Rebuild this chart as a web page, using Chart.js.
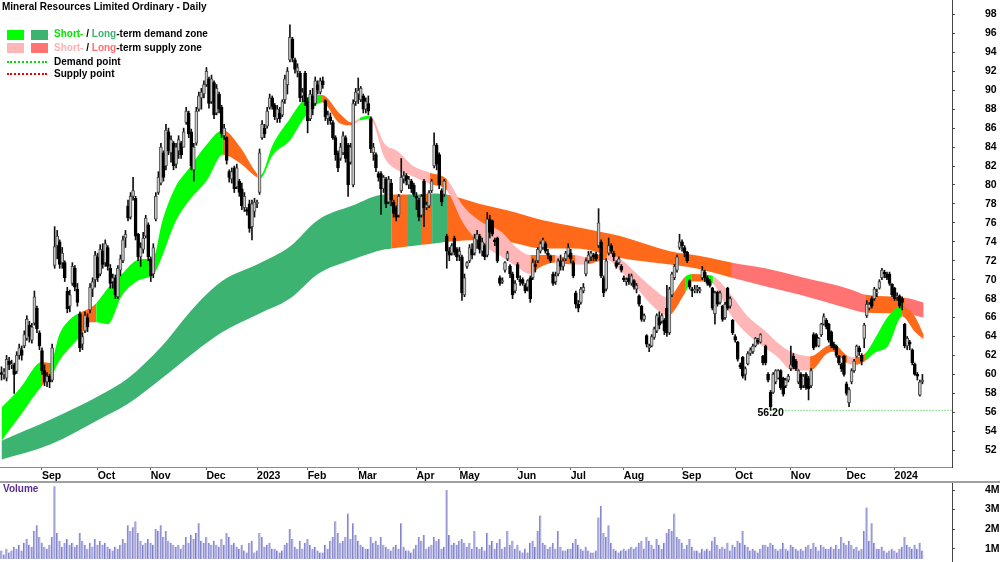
<!DOCTYPE html>
<html>
<head>
<meta charset="utf-8">
<title>Mineral Resources Limited Ordinary - Daily</title>
<script src="https://cdn.jsdelivr.net/npm/chart.js@4.4.1/dist/chart.umd.min.js"></script>
<style>
  html, body { margin: 0; padding: 0; background: #fff; }
  #wrap { position: relative; width: 1000px; height: 562px; overflow: hidden; font-family: "Liberation Sans", Arial, sans-serif; }
  #pricePanel { position: absolute; left: 0; top: 0; width: 1000px; height: 482px; }
  #volumePanel { position: absolute; left: 0; top: 483px; width: 1000px; height: 76px; }
  #axisTail { position: absolute; left: 952px; top: 559px; width: 1px; height: 3px; background: #444; }
  #divider { position: absolute; left: 0; top: 481px; width: 1000px; height: 2px; background: #a0a0a0; }
  .txt { position: absolute; font-weight: bold; font-size: 10px; line-height: 12px; color: #000; white-space: nowrap; }
  .sw { position: absolute; width: 17px; height: 10px; }
  .dots { position: absolute; width: 40px; height: 0; border-top: 2px dotted; }
</style>
</head>
<body>
<div id="wrap">
  <div id="pricePanel"><canvas id="priceChart"></canvas></div>
  <div id="divider"></div>
  <div id="volumePanel"><canvas id="volumeChart"></canvas></div>
  <div id="axisTail"></div>

  <div class="txt" style="left:2px;top:1px">Mineral Resources Limited Ordinary - Daily</div>

  <div class="sw" style="left:7px;top:30px;background:#00ff00"></div>
  <div class="sw" style="left:31px;top:30px;background:#3cb371"></div>
  <div class="txt" style="left:54px;top:28px"><span style="color:#00e600">Short-</span> / <span style="color:#3cb371">Long</span>-term demand zone</div>

  <div class="sw" style="left:7px;top:43px;background:#ffb6b6"></div>
  <div class="sw" style="left:31px;top:43px;background:#ff7373"></div>
  <div class="txt" style="left:54px;top:42px"><span style="color:#ffb0b0">Short-</span> / <span style="color:#ff6f6f">Long</span>-term supply zone</div>

  <div class="dots" style="left:7px;top:61px;border-color:#00dd00"></div>
  <div class="txt" style="left:54px;top:56px">Demand point</div>
  <div class="dots" style="left:7px;top:73px;border-color:#ee0000"></div>
  <div class="txt" style="left:54px;top:68px">Supply point</div>

  <div class="txt" style="left:3px;top:483px;color:#5c2d91">Volume</div>
</div>

<script>
// daily bars: [open, high, low, close, volume (millions)]
const aug22 = [
  [60.2,60.8,59.4,60.0,0.9],[60.0,60.6,59.5,60.3,0.7],[59.6,62.0,59.3,61.6,1.0],[61.4,61.8,60.5,61.0,0.8],
  [61.0,61.5,60.6,61.1,0.9],[61.0,61.2,58.0,60.0,1.1],[60.3,62.4,60.1,62.0,1.0],[62.0,63.2,61.6,62.8,1.2],
  [62.6,63.0,61.5,62.0,0.9],[63.0,64.6,62.8,64.2,1.3],[63.8,66.2,63.6,65.8,1.5],[65.2,65.6,63.4,64.0,1.2],
  [63.6,65.4,63.3,65.0,1.1],[65.4,68.8,65.2,68.2,1.9],[67.0,67.2,64.4,64.8,2.2],[64.4,64.6,62.6,63.0,1.6]
];
const sep22 = [
  [62.5,62.8,60.0,60.4,1.3],[60.4,61.0,58.8,59.2,1.1],[59.2,60.2,58.7,59.8,1.0],[59.8,60.0,58.6,59.2,1.2],
  [59.4,63.2,59.2,62.8,1.6],[71.5,75.6,71.2,73.5,4.2],[73.6,75.2,72.2,74.6,1.8],[74.0,74.2,71.2,71.6,1.4],
  [71.8,73.4,71.2,72.8,1.1],[71.8,72.0,69.8,70.2,1.3],[68.8,69.2,66.5,66.9,1.5],[67.2,68.9,66.6,68.4,1.2],
  [69.6,71.8,69.4,71.4,1.3],[71.2,71.5,68.8,69.2,1.1],[69.0,69.6,67.2,67.6,1.2],[66.4,66.6,62.4,62.8,1.8],
  [63.2,64.4,62.6,64.0,1.4],[64.6,66.6,64.4,66.2,1.2],[66.0,66.4,64.5,65.0,1.0],[66.8,69.6,66.5,69.2,1.3],
  [69.0,70.2,68.2,69.8,1.1],[70.0,73.0,69.2,72.6,1.5]
];
const oct22 = [
  [72.4,72.8,69.8,70.2,1.2],[70.6,73.7,70.4,73.2,1.4],[73.0,73.8,71.2,71.6,1.2],[71.8,74.2,71.4,73.8,1.3],
  [73.4,73.6,71.0,71.4,1.1],[71.2,71.6,69.1,69.6,1.0],[69.8,70.6,69.1,70.2,0.9],[70.2,70.5,68.0,68.4,1.1],
  [68.2,71.5,68.0,71.2,1.0],[71.0,72.6,70.4,72.2,1.2],[72.0,74.6,71.8,74.2,1.5],[74.4,75.2,73.4,74.8,1.3],
  [77.8,78.4,76.2,76.5,2.2],[76.6,79.2,76.4,78.8,1.9],[78.8,80.8,78.4,79.4,2.1],[78.6,78.8,74.2,74.6,2.4],
  [74.8,74.9,72.0,72.4,1.8],[72.4,73.9,71.4,73.4,1.4],[73.2,75.0,72.8,74.4,1.2],[74.6,76.8,74.4,76.5,1.3],
  [75.8,76.0,72.0,72.4,1.5]
];
const nov22 = [
  [72.2,72.4,69.8,70.4,1.3],[70.6,73.8,70.2,73.4,1.2],[76.4,79.2,76.2,78.8,2.0],[79.2,81.4,79.0,80.8,1.9],
  [80.2,84.4,80.0,84.0,2.2],[83.4,83.6,80.4,80.8,1.6],[82.0,86.4,81.6,85.8,1.9],[85.6,86.0,83.2,83.6,1.4],
  [83.4,85.2,82.4,84.8,1.3],[84.4,84.6,81.6,82.0,1.2],[82.2,84.4,81.8,84.0,1.1],[83.6,85.2,82.8,84.8,1.2],
  [84.4,84.6,82.8,83.2,1.0],[84.0,86.0,84.0,85.6,1.2],[86.6,88.2,86.4,87.8,1.6],[87.6,87.8,85.0,85.4,1.3],
  [85.6,85.9,81.6,82.0,1.7],[81.6,84.4,80.4,84.0,1.5],[84.4,88.2,84.2,87.8,1.8],[88.0,89.8,87.8,89.4,2.3],
  [89.2,90.2,88.0,89.8,1.4],[89.6,91.0,89.2,90.6,1.3]
];
const dec22 = [
  [90.6,92.4,90.4,92.0,1.6],[91.2,91.4,88.1,88.6,1.3],[88.8,91.6,88.6,91.2,1.2],[90.8,91.0,87.0,87.4,1.4],
  [87.6,90.6,87.4,90.2,1.2],[89.6,89.8,87.6,88.0,1.1],[88.2,88.4,85.0,85.4,1.5],[85.2,86.4,84.8,86.0,1.2],
  [85.0,85.1,82.2,82.6,1.8],[81.4,81.6,80.3,80.8,1.6],[80.6,81.8,80.2,81.4,1.2],[81.8,82.0,79.2,79.6,1.3],
  [79.8,82.2,79.6,81.8,1.1],[80.4,80.6,78.8,79.2,1.0],[79.6,80.2,77.4,77.8,1.2],[77.6,79.2,77.2,78.8,0.9],
  [77.4,77.6,76.8,77.2,0.8],[78.0,78.4,75.0,75.4,1.3],[75.6,78.4,74.2,78.0,1.4],[77.2,78.6,76.6,78.2,0.8]
];
const jan23 = [
  [78.0,78.4,77.6,78.2,0.9],[79.2,83.8,79.0,83.4,1.8],[85.0,86.8,84.8,86.4,1.6],[86.0,86.4,85.0,85.4,1.1],
  [86.2,88.2,86.0,87.8,1.2],[88.2,89.6,88.0,89.2,1.3],[89.2,89.4,88.0,88.3,1.0],[88.4,88.6,86.9,87.2,1.0],
  [87.0,88.4,86.6,88.0,0.9],[87.6,88.2,86.6,87.0,0.8],[87.4,89.0,87.2,88.8,0.9],[89.0,91.6,88.6,91.2,1.2],
  [90.6,92.4,89.6,92.0,1.3],[93.2,96.9,93.0,95.6,2.0],[95.4,95.6,93.0,93.4,1.5],[93.2,93.4,91.8,92.2,1.1],
  [92.0,92.8,91.4,92.4,1.0],[91.8,92.0,88.8,89.2,1.4],[89.4,90.2,88.8,89.8,1.0],[91.8,92.0,88.4,88.8,1.3]
];
const feb23 = [
  [88.8,89.2,85.5,86.8,1.5],[87.0,90.0,86.8,89.6,1.2],[89.4,90.2,87.4,88.0,1.0],[88.6,91.4,88.4,91.0,1.1],
  [90.6,91.0,89.6,90.0,0.9],[89.8,91.3,89.6,91.0,0.8],[91.0,91.4,90.2,90.6,0.8],[88.9,89.0,86.8,87.2,1.2],
  [87.0,87.8,86.4,87.4,1.0],[87.2,87.6,86.4,86.8,1.4],[86.6,86.8,84.8,85.0,1.6],[85.0,85.2,82.6,83.2,2.4],
  [83.4,83.6,81.4,81.8,1.8],[82.8,84.4,82.6,84.0,1.3],[83.4,85.6,83.2,85.2,1.4],[85.0,85.2,82.4,82.8,1.6],
  [84.2,84.4,78.8,80.0,2.8],[82.4,84.4,82.2,84.0,1.5],[80.0,89.0,79.8,88.6,2.3],[88.8,90.2,88.4,89.8,1.7]
];
const mar23 = [
  [89.6,91.3,88.6,90.0,1.4],[89.0,90.4,88.8,90.2,1.2],[89.4,89.6,87.6,88.0,1.1],[88.0,89.2,87.6,88.8,1.0],
  [88.6,89.4,87.4,87.8,1.0],[87.0,87.2,83.4,83.8,1.6],[83.4,84.4,82.6,84.0,1.3],[83.2,83.4,81.4,81.8,1.4],
  [81.2,81.4,80.4,80.8,1.2],[81.2,81.4,76.9,79.6,1.6],[79.6,81.0,79.2,80.8,1.2],[80.6,80.8,77.6,78.0,1.1],
  [78.2,80.9,78.0,80.6,1.0],[80.2,80.6,77.8,78.4,0.9],[78.2,78.4,76.6,77.0,1.1],[77.6,77.8,76.2,76.6,1.2],
  [76.8,79.0,76.6,78.8,1.0],[79.4,82.8,79.2,80.8,2.3],[80.6,81.4,80.2,81.0,1.1],[81.0,81.2,80.0,80.4,0.9],
  [80.0,80.9,79.6,80.6,0.9],[80.4,80.6,79.2,79.6,0.8],[80.0,80.2,78.8,79.0,1.0]
];
const apr23 = [
  [78.8,79.2,77.4,78.6,1.2],[78.4,78.6,76.2,76.6,1.6],[76.8,79.0,76.6,78.8,1.4],[80.4,80.6,75.6,77.6,1.7],
  [77.6,78.2,77.4,77.9,1.0],[77.8,79.4,77.6,79.2,1.1],[79.4,80.6,79.2,80.4,1.2],[82.0,85.5,81.8,84.2,1.6],
  [84.2,84.4,81.6,82.2,1.4],[83.2,83.4,79.6,80.0,1.5],[79.4,79.6,77.8,78.2,1.0],[79.0,80.6,78.8,80.4,1.1],
  [74.6,74.8,71.2,73.0,4.0],[73.0,73.4,72.0,72.6,1.7],[72.8,73.8,72.6,73.6,1.2],[74.4,74.6,72.6,72.9,1.3],
  [73.2,73.4,72.0,72.4,1.2]
];
const may23 = [
  [72.6,73.4,72.0,73.0,1.4],[72.4,72.6,67.8,68.6,1.5],[68.4,70.6,68.2,70.2,1.3],[71.4,71.9,71.2,71.8,1.1],
  [72.0,73.7,71.8,73.4,1.3],[73.2,73.8,72.2,72.6,1.0],[72.8,74.8,72.6,74.4,1.9],[74.2,75.2,73.3,74.8,1.1],
  [74.6,74.8,72.8,73.2,1.0],[73.0,74.4,72.5,74.0,1.1],[73.6,73.8,72.1,72.4,0.9],[72.6,77.1,72.4,76.4,1.8],
  [76.4,76.8,74.4,75.0,1.2],[76.2,76.3,74.6,74.8,1.4],[74.2,74.4,73.6,74.0,1.0],[74.4,74.5,71.8,72.0,1.3],
  [70.2,70.4,69.4,69.6,1.5],[69.8,70.2,69.6,69.9,1.0],[71.0,71.9,70.8,71.8,1.1],[72.2,73.0,72.0,72.8,1.9],
  [71.4,71.6,70.2,70.6,1.2],[70.6,70.8,68.0,68.4,1.4],[68.8,69.9,68.6,69.6,1.0]
];
const jun23 = [
  [71.6,71.8,70.0,70.2,1.2],[70.0,70.4,69.4,69.8,0.9],[70.0,70.2,69.4,69.6,0.8],[69.4,69.6,68.6,68.8,1.0],
  [69.2,70.0,68.8,69.9,0.8],[70.2,70.4,67.6,68.0,1.3],[70.2,72.2,70.0,71.8,1.4],[71.6,72.0,70.8,71.4,1.1],
  [72.0,73.4,71.8,73.2,1.9],[73.0,74.0,72.8,73.8,2.7],[73.4,74.4,73.2,74.2,1.3],[73.8,74.0,72.8,73.0,1.2],
  [72.8,73.2,72.2,72.6,1.0],[72.5,72.6,71.8,72.0,1.1],[70.6,70.8,69.4,69.6,1.3],[69.8,70.8,69.5,70.4,1.0],
  [70.6,72.2,70.4,72.0,1.9],[72.0,72.6,71.0,71.4,1.1],[71.4,72.2,71.0,72.0,0.9],[72.2,73.0,72.0,72.8,0.9],
  [72.6,73.8,72.4,73.4,1.0]
];
const jul23 = [
  [72.8,73.2,71.8,72.2,1.0],[71.8,72.0,70.2,70.4,1.3],[68.6,68.8,67.0,67.4,1.5],[67.4,67.8,66.6,67.0,1.2],
  [67.6,69.2,67.4,69.0,1.0],[68.8,69.6,68.6,69.2,0.9],[70.6,72.2,70.4,72.0,1.1],[72.0,73.0,71.8,72.6,0.9],
  [72.4,73.0,72.0,72.8,0.8],[72.6,72.8,72.0,72.4,0.8],[72.7,72.9,72.0,72.2,0.9],[73.6,77.5,73.4,76.0,2.6],
  [74.0,74.2,70.2,70.4,3.2],[70.2,70.4,68.2,68.6,1.8],[69.0,72.2,68.8,72.0,1.6],[72.8,74.4,72.6,73.6,2.2],
  [73.6,73.8,72.8,73.0,1.3],[72.8,73.0,72.0,72.4,1.0],[71.8,72.0,71.2,71.4,0.9],[71.8,72.4,71.6,72.2,0.8],
  [71.4,71.6,70.8,71.0,0.9]
];
const aug23 = [
  [70.2,70.4,69.8,70.0,1.0],[69.8,70.2,69.4,70.0,0.9],[70.2,70.6,69.5,69.8,1.0],[69.6,70.6,69.4,70.4,1.1],
  [69.9,70.0,69.0,69.2,1.0],[69.0,69.6,68.6,69.4,1.1],[68.3,68.4,67.2,67.4,1.3],[67.2,67.3,65.6,65.8,1.4],
  [65.8,66.4,65.6,66.2,1.0],[64.1,64.2,62.9,63.2,1.6],[62.8,63.2,62.4,63.0,1.4],[63.0,64.2,62.9,64.0,1.2],
  [63.9,65.0,63.7,64.8,1.0],[64.6,66.4,64.4,66.2,1.5],[66.0,66.6,64.8,65.2,1.2],[65.6,66.4,65.4,66.2,1.0],
  [65.7,65.9,64.2,64.6,1.3],[67.0,69.4,64.0,64.4,1.8],[64.4,69.2,64.2,69.0,2.0],[68.4,70.8,68.2,70.6,1.9],
  [70.2,71.6,70.0,71.4,2.8],[71.0,72.6,70.8,72.4,1.6],[73.4,74.8,73.2,74.0,1.5]
];
const sep23 = [
  [74.0,74.2,73.0,73.6,1.3],[73.4,73.6,72.4,72.8,1.0],[72.9,73.0,71.8,72.0,1.2],[69.9,70.0,69.0,69.2,1.5],
  [69.0,69.2,68.2,68.8,1.1],[68.8,69.4,68.6,69.0,0.9],[69.0,69.4,68.6,69.2,0.9],[68.8,69.2,68.6,69.0,0.8],
  [70.2,71.4,70.0,71.0,1.0],[70.8,71.0,69.8,70.2,0.9],[70.2,70.4,69.4,69.6,1.0],[69.8,70.0,69.2,69.4,0.9],
  [69.1,69.2,66.8,67.0,1.4],[66.4,68.8,65.3,68.6,1.6],[68.7,68.8,67.2,67.4,1.2],[67.6,68.8,67.4,68.6,1.0],
  [67.2,67.3,65.6,65.8,1.1],[66.0,67.6,65.8,67.4,1.0],[69.1,69.2,66.8,67.0,1.3],[67.2,68.2,67.0,68.0,0.9],
  [65.7,65.8,64.2,64.4,1.2]
];
const oct23 = [
  [64.0,64.2,63.4,63.6,1.1],[63.4,63.5,61.4,61.6,1.4],[61.0,61.2,60.6,60.8,1.3],[61.8,61.9,59.6,59.8,1.9],
  [60.0,60.8,59.4,60.6,1.2],[61.1,62.4,61.0,62.2,1.1],[62.2,62.8,62.0,62.6,0.9],[62.4,63.2,62.2,63.0,1.0],
  [63.0,63.9,62.9,63.8,0.9],[63.6,63.8,63.2,63.4,0.8],[63.4,64.3,63.3,64.2,1.0],[61.9,62.0,61.0,61.2,1.2],
  [63.0,63.1,61.0,61.2,1.2],[60.0,60.2,59.2,59.4,1.1],[58.1,58.3,56.2,56.6,1.3],[58.1,60.2,58.0,60.0,1.2],
  [59.2,60.5,59.0,60.4,1.0],[59.6,60.5,59.5,60.4,0.9],[60.4,60.5,58.4,58.6,1.0],[59.6,59.7,57.7,57.9,1.3],
  [58.8,59.6,58.6,59.4,1.0],[59.4,60.0,59.2,59.8,0.9]
];
const nov23 = [
  [60.6,63.0,60.4,61.0,1.2],[61.9,62.2,60.6,60.8,1.1],[61.4,61.6,60.4,60.6,1.0],[59.2,60.5,59.0,60.4,0.9],
  [60.0,60.2,58.4,58.6,1.0],[58.8,60.0,58.6,59.8,0.9],[60.0,60.2,58.4,58.6,1.1],[59.6,59.8,57.3,58.5,1.2],
  [58.8,60.6,58.6,60.4,1.0],[64.2,64.4,62.6,62.8,1.3],[64.2,64.3,62.9,63.0,1.1],[63.0,63.9,62.9,63.8,0.9],
  [64.2,65.4,64.0,65.3,1.2],[65.3,66.4,65.2,66.1,1.1],[65.7,65.9,64.8,65.0,1.0],[65.3,65.4,63.4,63.6,1.0],
  [64.5,64.6,62.8,63.0,1.1],[63.2,63.4,62.6,62.8,1.0],[63.0,63.1,61.8,62.0,1.2],[61.9,62.0,61.0,61.2,1.0],
  [61.1,61.2,60.3,60.6,1.6],[61.9,62.0,59.8,60.0,1.3]
];
const dec23 = [
  [59.0,59.2,57.8,58.0,1.2],[57.0,58.6,56.6,58.4,1.4],[59.2,60.6,59.0,60.4,1.2],[60.4,61.6,60.2,61.4,1.0],
  [61.9,63.1,61.8,63.0,1.1],[62.8,63.0,62.0,62.4,0.9],[62.0,62.2,61.0,61.4,1.0],[63.8,65.4,62.8,65.2,1.9],
  [66.2,67.8,66.0,67.4,3.1],[67.0,67.6,66.8,67.4,1.4],[68.0,68.2,67.0,67.2,2.3],[68.0,69.2,67.8,69.0,1.3],
  [68.6,69.0,68.2,68.6,1.0],[69.1,70.0,69.0,69.8,1.0],[70.2,71.2,70.0,71.0,1.1],[70.8,71.0,70.2,70.6,0.9],
  [70.6,70.8,70.0,70.2,0.8],[70.6,70.8,69.4,69.6,0.9],[69.5,69.6,68.2,68.4,1.0]
];
const jan24 = [
  [69.1,69.2,67.8,68.0,0.9],[68.2,68.6,67.8,68.2,0.8],[68.3,68.4,67.0,67.2,1.0],[68.0,68.2,66.8,67.6,1.1],
  [65.3,65.4,62.8,63.0,1.6],[63.0,64.0,62.6,63.8,1.2],[63.4,63.6,62.6,63.2,1.1],[62.6,62.7,61.0,61.2,1.0],
  [61.1,61.2,59.9,60.0,1.2],[60.0,60.2,59.4,59.8,1.0],[57.8,59.4,57.7,59.2,1.3],[59.2,60.0,59.0,59.4,0.9]
];

// month axis labels (one per month after the first partial month)
const monthLabels = ['Sep','Oct','Nov','Dec','2023','Feb','Mar','Apr','May','Jun','Jul','Aug','Sep','Oct','Nov','Dec','2024'];
const priceTicks = [52,54,56,58,60,62,64,66,68,70,72,74,76,78,80,82,84,86,88,90,92,94,96,98];
const volumeTicks = [1,2,3,4];
const volumeTickLabels = ['1M','2M','3M','4M'];

// short-term zone band, read at bar positions
const shortX = [0,7.3,16,19.2,23,27,31,35,37.4,42,
  47.6,54,58.7,60.3,63.4,68.6,73.7,81.2,87.5,94.3,
  101,102.2,107.3,114,120,126.7,133.8,138.5,141.7,145.6,
  151.6,156.3,162.7,169.4,176.1,182.4,189.1,197.8,203,209,
  212.8,218.8,221.5,226.7,230.6,239.3,244.5,251.2,257.5,263.4,
  270.2,272.9,279.2,281.2,288.7,295,301.8,306.5,312.8,319.6,
  326.3,328.7,334.2,337.4,341.3,345.3,350.4,356,361,364.5];
const shortHi = [56.5,58.5,61.3,61.2,64.3,65.8,66.5,67,67.5,69.1,
  70.6,72.1,72.2,72.4,76,79.7,81.6,84.3,85.8,84,
  81.2,81,84.3,87,89.1,89.5,87.5,86.6,87.1,87.3,
  84.3,83.6,82,81.3,80.6,77.8,76.2,75,73.5,72.6,
  72.6,72.6,72.4,72.6,72.4,72.8,72.2,70.6,69.1,68.1,
  70.3,70.6,70.5,70.4,68.3,66.1,64.6,63.4,62.3,61.9,
  63,63.2,62,61.8,62.2,63.8,66.1,67.2,66.1,64.2];
const shortLo = [53,55.6,58.8,59.6,61.5,62.8,64,65.5,65.5,65.3,
  68.3,69.9,70.3,70.6,72.4,76,78.2,80.5,83.2,82.3,
  80.8,80.7,83.2,84.7,87.2,88.7,86.5,86.3,86.8,87,
  82.8,81.6,80.9,80.1,79.4,76,73.9,72.4,71.5,70.6,
  71.3,71.8,71.7,71.6,71.6,72.1,71,69.1,67.2,66.2,
  68.6,69.8,69.8,69.6,66.1,64.2,62.8,61.9,60.4,60.4,
  62.2,62.4,61.2,61,61.4,62.3,63,66.1,64.5,63.7];
// d = demand, s = supply, n = neutral (orange); applies from the point to the next one
const shortZone = ['d','d','n','d','d','d','n','n','d','d',
  'd','d','n','d','d','d','d','d','n','n',
  's','d','d','d','d','n','n','s','d','s',
  's','s','s','n','s','s','s','s','s','n',
  'n','s','n','s','n','s','s','s','s','n',
  'd','n','d','s','s','s','s','s','s','n',
  'n','n','s','n','d','d','d','n','n','n'];

// long-term zone band
const longX = [0,19.2,38.9,50,63.4,76.5,87.5,101,114,125.1,138.5,151.6,154.3,160.3,166.2,170.2,
  176.1,189.1,200.2,213.6,226.7,244.5,264.2,276.1,288.7,301.8,315.6,335.4,341.7,357.1,364.5];
const longHi = [53,55.2,57.8,59.6,63,67.2,69.9,71.6,73.5,76.3,77.8,79,79,79,79,79.1,
  79,78,77.3,76.3,75.6,74.6,73,72.5,71.8,71.2,70.3,69,68.4,68.1,67.6];
const longLo = [51,52.6,55.3,56.9,59.6,62.4,64.5,66.3,68,70.6,72.1,73.2,73.3,73.5,73.7,73.8,
  74,74.2,74,73.3,73.3,72.3,71.6,71.1,70.2,69.3,68.4,66.9,66.5,66.4,66];
const longZone = ['d','d','d','d','d','d','d','d','d','d','d','d','n','d','n','d',
  'n','n','n','n','n','n','n','n','s','s','s','s','n','s','s'];

const supportValue = 56.20;
const supportIndex = 304;

const zoneColors = {
  short: { d: '#00ff00', s: '#ffb6b6', n: '#ff6a1a' },
  long:  { d: '#3cb371', s: '#ff7373', n: '#ff6a1a' }
};

const months = [aug22, sep22, oct22, nov22, dec22, jan23, feb23, mar23, apr23,
  may23, jun23, jul23, aug23, sep23, oct23, nov23, dec23, jan24];
const bars = months.flat();
const monthStarts = [];
let count = 0;
months.forEach((m, k) => { if (k > 0) monthStarts.push(count); count += m.length; });

const X_MIN = -0.6, X_MAX = 375.7;
const axisFont = { family: '"Liberation Sans", Arial, sans-serif', size: 10.5, weight: 'bold' };

function pts(xs, ys) {
  return xs.map((x, k) => ({ x: x, y: ys[k] }));
}

function bandLine(xs, ys, zones, kind, fillTarget, order) {
  return {
    type: 'line',
    data: pts(xs, ys),
    borderWidth: 0,
    pointRadius: 0,
    cubicInterpolationMode: 'monotone',
    backgroundColor: zoneColors[kind].d,
    fill: fillTarget === null ? false : fillTarget,
    order: order,
    segment: {
      backgroundColor: c => zoneColors[kind][zones[c.p0DataIndex]]
    }
  };
}

const isUp = bars.map(b => b[3] >= b[0]);

const supportLabel = {
  id: 'supportLabel',
  afterDatasetsDraw(chart) {
    const { ctx, scales } = chart;
    ctx.save();
    ctx.font = 'bold 10.5px "Liberation Sans", Arial, sans-serif';
    ctx.fillStyle = '#000';
    ctx.textAlign = 'center';
    ctx.textBaseline = 'middle';
    ctx.fillText(supportValue.toFixed(2), scales.x.getPixelForValue(supportIndex), scales.y.getPixelForValue(supportValue) + 3);
    ctx.restore();
  }
};

new Chart(document.getElementById('priceChart'), {
  type: 'bar',
  data: {
    datasets: [
      bandLine(longX, longHi, longZone, 'long', 1, 4),
      bandLine(longX, longLo, longZone, 'long', null, 4),
      bandLine(shortX, shortHi, shortZone, 'short', 3, 3),
      bandLine(shortX, shortLo, shortZone, 'short', null, 3),
      {
        type: 'line',
        data: [{ x: supportIndex, y: supportValue }, { x: X_MAX, y: supportValue }],
        borderColor: '#22cc22',
        borderWidth: 1,
        borderDash: [1, 2],
        pointRadius: 0,
        fill: false,
        order: 2
      },
      {
        // wicks
        data: bars.map((b, i) => ({ x: i, y: [b[2], b[1]] })),
        backgroundColor: '#111',
        barThickness: 1,
        grouped: false,
        order: 1
      },
      {
        // bodies
        data: bars.map((b, i) => ({ x: i, y: [b[0], b[3]] })),
        backgroundColor: c => isUp[c.dataIndex] ? '#c8c8c8' : '#000',
        borderColor: c => isUp[c.dataIndex] ? '#4a4a4a' : '#000',
        borderWidth: 1,
        borderSkipped: false,
        barThickness: 3,
        minBarLength: 1,
        grouped: false,
        order: 0
      }
    ]
  },
  options: {
    responsive: true,
    maintainAspectRatio: false,
    animation: false,
    events: [],
    layout: { padding: 0 },
    plugins: { legend: { display: false }, tooltip: { enabled: false } },
    scales: {
      x: {
        type: 'linear',
        min: X_MIN,
        max: X_MAX,
        offset: false,
        bounds: 'data',
        grid: { display: true, drawOnChartArea: false, drawTicks: true, tickLength: 3, color: '#666', offset: false },
        border: { display: true, color: '#8a8a8a' },
        ticks: {
          autoSkip: false, maxRotation: 0, align: 'start', padding: 0, color: '#000', font: axisFont,
          callback: (v, i) => monthLabels[i]
        },
        afterBuildTicks: s => { s.ticks = monthStarts.map(v => ({ value: v })); },
        afterFit: s => { s.height = 15; s.paddingLeft = 0; s.paddingRight = 0; }
      },
      y: {
        type: 'linear',
        position: 'right',
        min: 50.22,
        max: 99.53,
        beginAtZero: false,
        bounds: 'data',
        grid: { display: true, drawOnChartArea: false, drawTicks: true, tickLength: 3, color: '#444' },
        border: { display: true, color: '#444' },
        ticks: { autoSkip: false, padding: 30, color: '#000', font: axisFont },
        afterBuildTicks: s => { s.ticks = priceTicks.map(v => ({ value: v })); },
        afterFit: s => { s.width = 48; s.paddingTop = 0; s.paddingBottom = 0; }
      }
    }
  },
  plugins: [supportLabel]
});

new Chart(document.getElementById('volumeChart'), {
  type: 'bar',
  data: {
    datasets: [{
      data: bars.map((b, i) => ({ x: i, y: b[4] })),
      backgroundColor: '#b6b6e4',
      borderColor: '#7b7bc4',
      borderWidth: { left: 1, right: 0, top: 0, bottom: 0 },
      borderSkipped: false,
      barThickness: 2
    }]
  },
  options: {
    responsive: true,
    maintainAspectRatio: false,
    animation: false,
    events: [],
    layout: { padding: 0 },
    plugins: { legend: { display: false }, tooltip: { enabled: false } },
    scales: {
      x: {
        type: 'linear', min: X_MIN, max: X_MAX, offset: false, display: false,
        grid: { offset: false }
      },
      y: {
        type: 'linear',
        position: 'right',
        min: 0.47,
        max: 4.36,
        beginAtZero: false,
        bounds: 'data',
        grid: { display: true, drawOnChartArea: false, drawTicks: true, tickLength: 3, color: '#444' },
        border: { display: true, color: '#444' },
        ticks: { autoSkip: false, padding: 30, color: '#000', font: axisFont,
          callback: (v, i) => volumeTickLabels[i] },
        afterBuildTicks: s => { s.ticks = volumeTicks.map(v => ({ value: v })); },
        afterFit: s => { s.width = 48; s.paddingTop = 0; s.paddingBottom = 0; }
      }
    }
  }
});
</script>
</body>
</html>
